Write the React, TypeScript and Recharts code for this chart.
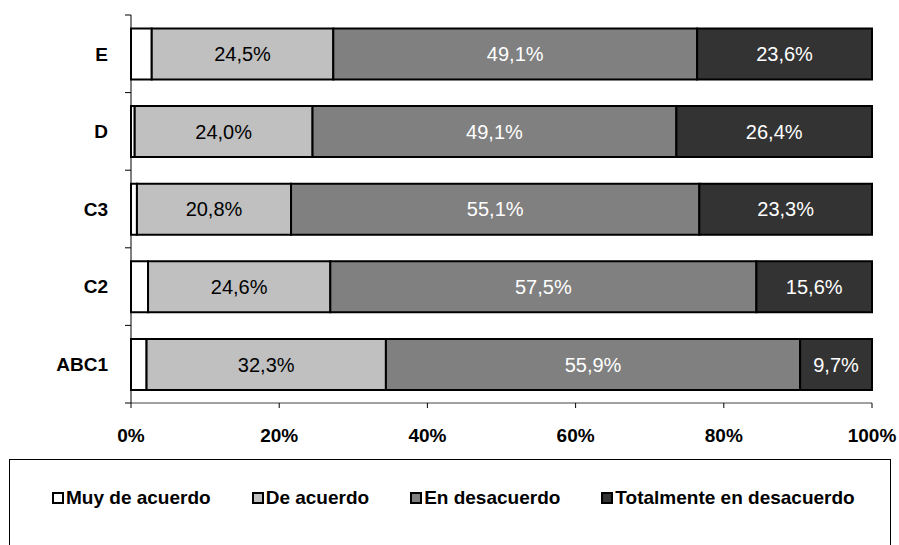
import { BarChart, Bar, XAxis, YAxis, LabelList } from "recharts";

const categories = ["E", "D", "C3", "C2", "ABC1"];
const muyDeAcuerdo = [2.8, 0.5, 0.8, 2.3, 2.1];
const deAcuerdo = [24.5, 24.0, 20.8, 24.6, 32.3];
const enDesacuerdo = [49.1, 49.1, 55.1, 57.5, 55.9];
const totalmente = [23.6, 26.4, 23.3, 15.6, 9.7];
const xTicks = [0, 20, 40, 60, 80, 100];

const seriesNames = [
  "Muy de acuerdo",
  "De acuerdo",
  "En desacuerdo",
  "Totalmente en desacuerdo",
];
const seriesColors = ["#ffffff", "#c0c0c0", "#808080", "#333333"];

const data = categories.map((c, i) => ({
  cat: c,
  muy: muyDeAcuerdo[i],
  de: deAcuerdo[i],
  en: enDesacuerdo[i],
  tot: totalmente[i],
}));

const FONT = "'Liberation Sans', Arial, sans-serif";
const fmt = (v: number) => `${v.toFixed(1).replace(".", ",")}%`;

const CategoryTick = (props: any) => {
  const { x, y, payload, index } = props;
  const half = payload?.offset ?? 38.8;
  const lx1 = x + 17;
  const lx2 = x + 23;
  return (
    <g>
      <line x1={lx1} x2={lx2} y1={y - half} y2={y - half} stroke="#000" />
      {index === categories.length - 1 && (
        <line x1={lx1} x2={lx2} y1={y + half} y2={y + half} stroke="#000" />
      )}
      <text
        x={x}
        y={y}
        dy="0.36em"
        textAnchor="end"
        fontFamily={FONT}
        fontWeight="bold"
        fontSize={19}
        fill="#000"
      >
        {payload.value}
      </text>
    </g>
  );
};

export default function App() {
  return (
    <div
      style={{
        position: "absolute",
        left: 0,
        top: 0,
        width: 899,
        height: 545,
        overflow: "hidden",
        background: "#fff",
      }}
    >
      <BarChart
        width={899}
        height={545}
        data={data}
        layout="vertical"
        margin={{ top: 15, right: 27, left: 0, bottom: 112 }}
        barCategoryGap={13.5}
      >
        <XAxis
          type="number"
          domain={[0, 100]}
          ticks={xTicks}
          tickFormatter={(v: number) => `${v}%`}
          height={30}
          tickSize={5}
          tickMargin={21}
          axisLine={{ stroke: "#808080", strokeWidth: 1.5 }}
          tickLine={{ stroke: "#000" }}
          tick={{ fontFamily: FONT, fontWeight: "bold", fontSize: 19, fill: "#000" }}
        />
        <YAxis
          type="category"
          dataKey="cat"
          width={131}
          tickSize={6}
          tickMargin={17}
          axisLine={{ stroke: "#000" }}
          tickLine={false}
          tick={<CategoryTick />}
        />
        <Bar dataKey="muy" stackId="a" fill={seriesColors[0]} stroke="#000" strokeWidth={2} isAnimationActive={false} />
        <Bar dataKey="de" stackId="a" fill={seriesColors[1]} stroke="#000" strokeWidth={2} isAnimationActive={false}>
          <LabelList
            dataKey="de"
            position="center"
            formatter={(v: any) => fmt(Number(v))}
            fill="#000"
            stroke="none"
            style={{ fontFamily: FONT, fontSize: 20 }}
          />
        </Bar>
        <Bar dataKey="en" stackId="a" fill={seriesColors[2]} stroke="#000" strokeWidth={2} isAnimationActive={false}>
          <LabelList
            dataKey="en"
            position="center"
            formatter={(v: any) => fmt(Number(v))}
            fill="#fff"
            stroke="none"
            style={{ fontFamily: FONT, fontSize: 20 }}
          />
        </Bar>
        <Bar dataKey="tot" stackId="a" fill={seriesColors[3]} stroke="#000" strokeWidth={2} isAnimationActive={false}>
          <LabelList
            dataKey="tot"
            position="center"
            formatter={(v: any) => fmt(Number(v))}
            fill="#fff"
            stroke="none"
            style={{ fontFamily: FONT, fontSize: 20 }}
          />
        </Bar>
      </BarChart>

      {/* legend box, like the spreadsheet one */}
      <div
        style={{
          position: "absolute",
          left: 9,
          top: 459,
          width: 882,
          height: 120,
          border: "1px solid #000",
          boxSizing: "border-box",
          display: "flex",
          alignItems: "flex-start",
          paddingLeft: 42,
          paddingTop: 27,
          gap: 41,
          fontFamily: FONT,
          fontWeight: "bold",
          fontSize: 19,
          color: "#000",
        }}
      >
        {seriesNames.map((name, i) => (
          <div key={name} style={{ display: "flex", alignItems: "center", whiteSpace: "nowrap" }}>
            <span
              style={{
                display: "inline-block",
                width: 8,
                height: 8,
                border: "2px solid #000",
                background: seriesColors[i],
                marginRight: 2,
              }}
            />
            <span>{name}</span>
          </div>
        ))}
      </div>
    </div>
  );
}
